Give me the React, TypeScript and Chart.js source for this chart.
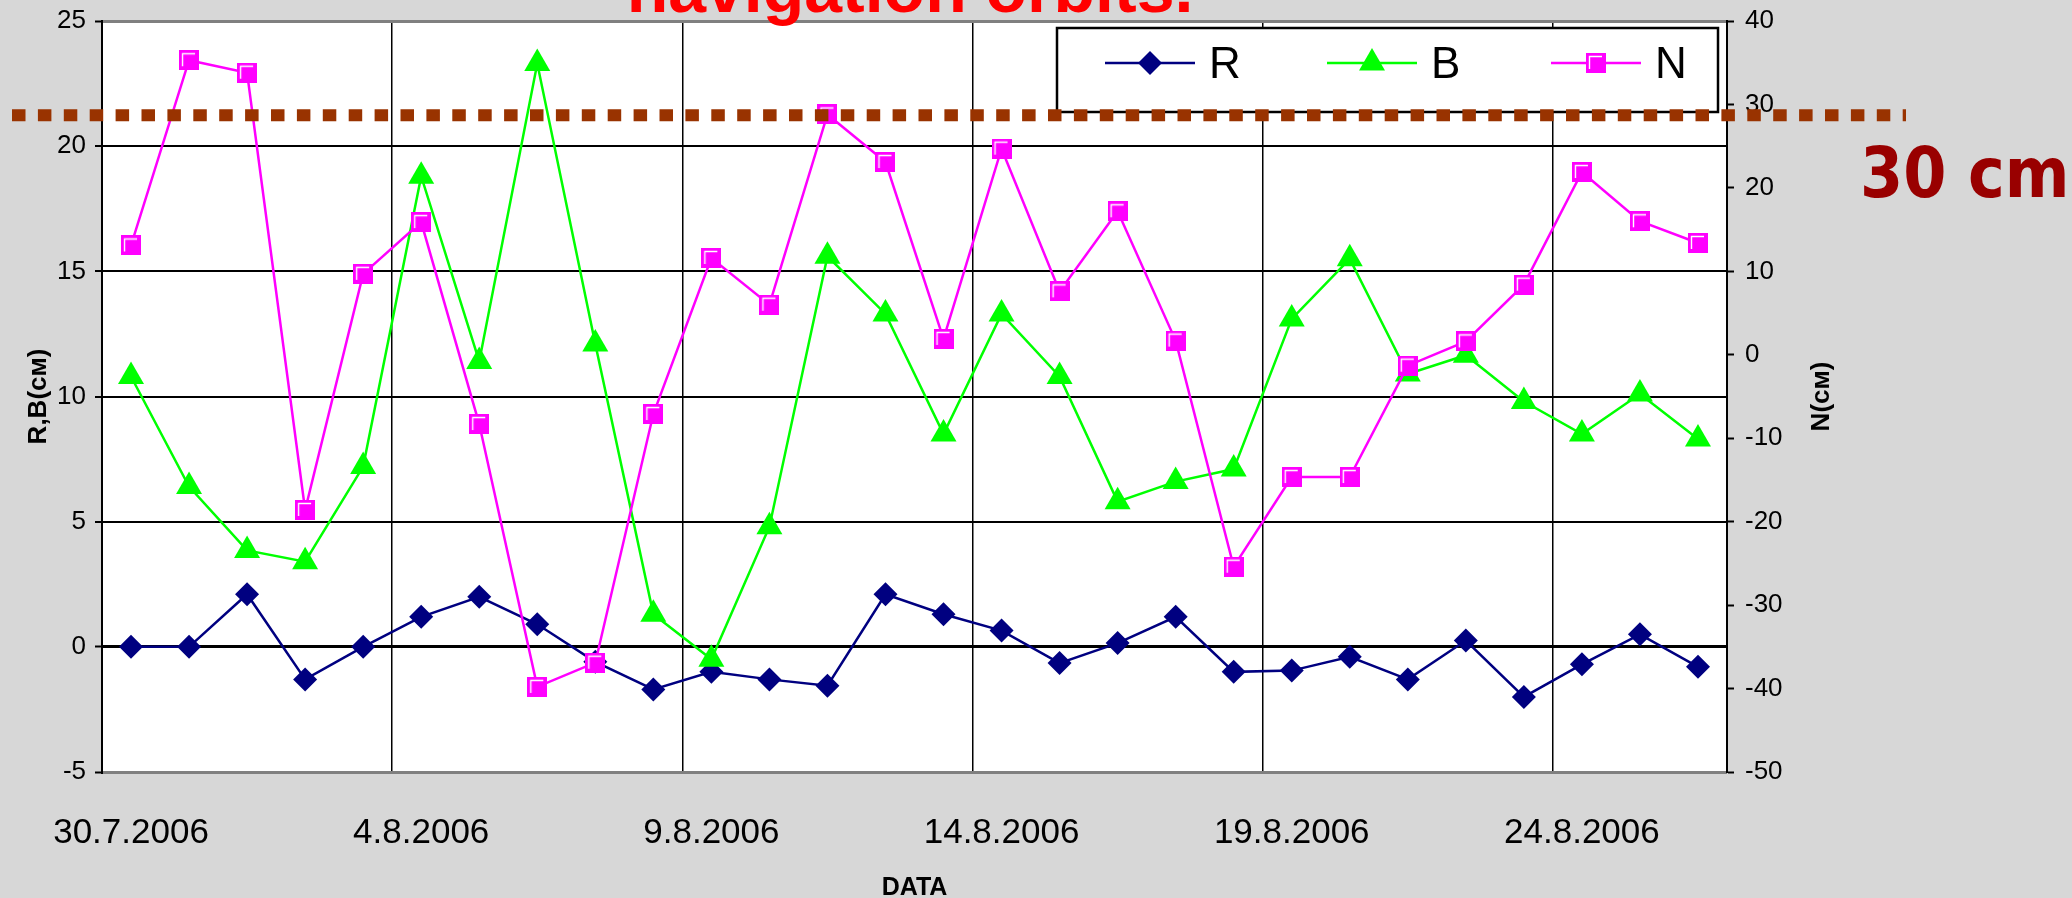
import React, { useEffect, useRef } from 'react';
import { Chart, registerables } from 'chart.js';

Chart.register(...registerables);

// ---------- data ----------
const categories = [
  '30.7.2006', '31.7.2006', '1.8.2006', '2.8.2006', '3.8.2006', '4.8.2006', '5.8.2006',
  '6.8.2006', '7.8.2006', '8.8.2006', '9.8.2006', '10.8.2006', '11.8.2006', '12.8.2006',
  '13.8.2006', '14.8.2006', '15.8.2006', '16.8.2006', '17.8.2006', '18.8.2006', '19.8.2006',
  '20.8.2006', '21.8.2006', '22.8.2006', '23.8.2006', '24.8.2006', '25.8.2006', '26.8.2006',
];

const rValues = [
  0, 0, 2.1, -1.3, 0, 1.2, 2.0, 0.9, -0.6, -1.7, -1.0, -1.3, -1.55, 2.1,
  1.3, 0.65, -0.65, 0.15, 1.2, -1.0, -0.95, -0.4, -1.3, 0.25, -2.0, -0.7, 0.5, -0.8,
];

const bValues = [
  10.8, 6.4, 3.85, 3.4, 7.2, 18.8, 11.4, 23.3, 12.1, 1.3, -0.5, 4.8, 15.6, 13.3,
  8.5, 13.3, 10.8, 5.8, 6.6, 7.1, 13.1, 15.5, 10.9, 11.65, 9.8, 8.5, 10.1, 8.3,
];

const nValues = [
  13.1, 35.3, 33.8, -18.6, 9.7, 15.9, -8.3, -39.8, -36.9, -7.1, 11.6, 6.0, 28.8, 23.1,
  1.9, 24.7, 7.6, 17.2, 1.7, -25.4, -14.65, -14.65, -1.3, 1.6, 8.4, 21.9, 16.0, 13.4,
];

const leftAxisRange = [-5, 25];
const leftAxisStep = 5;
const rightAxisRange = [-50, 40];
const rightAxisStep = 10;
const labelEvery = 5;

const seriesNames = ['R', 'B', 'N'];
const titleText = 'navigation orbits.';
const leftAxisTitle = 'R,B(см)';
const rightAxisTitle = 'N(см)';
const xAxisTitle = 'DATA';
const thresholdN = 28.7; // position of the drawn "30 cm" marker line on the N axis
const thresholdLabel = '30 cm';

// ---------- styles ----------
const FONT = "'Liberation Sans', Arial, sans-serif";
const NAVY = '#000080';
const GREEN = '#00ff00';
const MAGENTA = '#ff00ff';

function makeSquare(size: number, color: string): HTMLCanvasElement {
  const c = document.createElement('canvas');
  c.width = size;
  c.height = size;
  const g = c.getContext('2d')!;
  g.fillStyle = color;
  g.fillRect(0, 0, size, size);
  g.strokeStyle = '#ffffff';
  g.lineWidth = 1.4;
  g.beginPath();
  g.moveTo(3.5, size - 4);
  g.lineTo(3.5, 3.5);
  g.lineTo(size - 4, 3.5);
  g.stroke();
  return c;
}

function drawDiamond(ctx: CanvasRenderingContext2D, x: number, y: number, r: number, color: string) {
  ctx.beginPath();
  ctx.moveTo(x - r, y);
  ctx.lineTo(x, y - r);
  ctx.lineTo(x + r, y);
  ctx.lineTo(x, y + r);
  ctx.closePath();
  ctx.fillStyle = color;
  ctx.fill();
}

function drawTriangle(ctx: CanvasRenderingContext2D, x: number, y: number, r: number, color: string) {
  ctx.beginPath();
  for (let k = 0; k < 3; k++) {
    const a = (k * 2 * Math.PI) / 3;
    const px = x + Math.sin(a) * r;
    const py = y - Math.cos(a) * r;
    if (k === 0) ctx.moveTo(px, py);
    else ctx.lineTo(px, py);
  }
  ctx.closePath();
  ctx.fillStyle = color;
  ctx.fill();
}

export default function App() {
  const ref = useRef<HTMLCanvasElement>(null);

  useEffect(() => {
    const canvas = ref.current!;
    const square = makeSquare(20, MAGENTA);

    const overlay = {
      id: 'overlay',
      beforeDraw(chart: any) {
        const { ctx, chartArea: a } = chart;
        ctx.save();
        ctx.fillStyle = '#ffffff';
        ctx.fillRect(a.left, a.top, a.right - a.left, a.bottom - a.top);
        ctx.restore();
      },
      afterDraw(chart: any) {
        const { ctx, chartArea: a, scales } = chart;
        ctx.save();

        // legend box
        const lx = a.right - 670;
        const ly = a.top + 7;
        const lw = 661;
        const lh = 84;
        ctx.fillStyle = '#ffffff';
        ctx.fillRect(lx, ly, lw, lh);
        ctx.strokeStyle = '#000000';
        ctx.lineWidth = 2.5;
        ctx.strokeRect(lx, ly, lw, lh);
        const cy = ly + 35;
        const starts = [48, 270, 494];
        const colors = [NAVY, GREEN, MAGENTA];
        seriesNames.forEach((name, i) => {
          const sx = lx + starts[i];
          ctx.strokeStyle = colors[i];
          ctx.lineWidth = 2.5;
          ctx.beginPath();
          ctx.moveTo(sx, cy);
          ctx.lineTo(sx + 90, cy);
          ctx.stroke();
          const mx = sx + 45;
          if (i === 0) drawDiamond(ctx, mx, cy, 12, NAVY);
          else if (i === 1) drawTriangle(ctx, mx, cy, 15, GREEN);
          else ctx.drawImage(square, mx - square.width / 2, cy - square.height / 2);
          ctx.fillStyle = '#000000';
          ctx.font = `44px ${FONT}`;
          ctx.textAlign = 'left';
          ctx.textBaseline = 'alphabetic';
          ctx.fillText(name, sx + 104, cy + 15);
        });

        // threshold dashed line
        const ty = scales.y1.getPixelForValue(thresholdN);
        ctx.strokeStyle = '#993300';
        ctx.lineWidth = 12;
        ctx.lineCap = 'butt';
        ctx.setLineDash([13.5, 12.4]);
        ctx.beginPath();
        ctx.moveTo(12, ty);
        ctx.lineTo(1906, ty);
        ctx.stroke();
        ctx.setLineDash([]);

        // threshold label
        ctx.fillStyle = '#990000';
        ctx.font = "bold 69px 'DejaVu Sans Condensed', 'DejaVu Sans', sans-serif";
        ctx.textAlign = 'left';
        ctx.textBaseline = 'alphabetic';
        ctx.fillText(thresholdLabel, 1860, 197);

        // title (cut at top)
        ctx.fillStyle = '#ff0000';
        ctx.font = `bold 68px ${FONT}`;
        ctx.textAlign = 'center';
        ctx.fillText(titleText, 910, 12);

        // axis titles
        ctx.fillStyle = '#000000';
        ctx.font = `bold 26px ${FONT}`;
        ctx.textAlign = 'center';
        ctx.textBaseline = 'middle';
        const midY = (a.top + a.bottom) / 2;
        ctx.save();
        ctx.translate(39, midY);
        ctx.rotate(-Math.PI / 2);
        ctx.fillText(leftAxisTitle, 0, 0);
        ctx.restore();
        ctx.save();
        ctx.translate(1822, midY);
        ctx.rotate(-Math.PI / 2);
        ctx.fillText(rightAxisTitle, 0, 0);
        ctx.restore();
        ctx.font = `bold 25px ${FONT}`;
        ctx.textBaseline = 'alphabetic';
        ctx.fillText(xAxisTitle, (a.left + a.right) / 2, 895);

        ctx.restore();
      },
    };

    const edgeVals = [leftAxisRange[0], leftAxisRange[1]];

    const chart = new Chart(canvas, {
      type: 'line',
      data: {
        labels: categories,
        datasets: [
          {
            label: seriesNames[0],
            data: rValues,
            yAxisID: 'y',
            borderColor: NAVY,
            backgroundColor: NAVY,
            borderWidth: 2.5,
            pointStyle: 'rectRot',
            pointRadius: 12,
            pointBorderWidth: 0,
            pointBackgroundColor: NAVY,
            pointBorderColor: NAVY,
            tension: 0,
            order: 3,
          },
          {
            label: seriesNames[1],
            data: bValues,
            yAxisID: 'y',
            borderColor: GREEN,
            backgroundColor: GREEN,
            borderWidth: 2.5,
            pointStyle: 'triangle',
            pointRadius: 15,
            pointBorderWidth: 0,
            pointBackgroundColor: GREEN,
            pointBorderColor: GREEN,
            tension: 0,
            order: 2,
          },
          {
            label: seriesNames[2],
            data: nValues,
            yAxisID: 'y1',
            borderColor: MAGENTA,
            backgroundColor: MAGENTA,
            borderWidth: 2.5,
            pointStyle: square as any,
            pointRadius: 10,
            tension: 0,
            order: 1,
          },
        ],
      },
      options: {
        responsive: false,
        animation: false,
        events: [],
        layout: { padding: { top: 21, left: 0, right: 0, bottom: 0 } },
        plugins: {
          legend: { display: false },
          title: { display: false },
          tooltip: { enabled: false },
        },
        scales: {
          x: {
            type: 'category',
            offset: true,
            grid: {
              offset: true,
              drawTicks: false,
              lineWidth: 1.5,
              color: (c: any) =>
                c.index > 0 && c.index < categories.length && c.index % labelEvery === 0
                  ? '#000000'
                  : 'rgba(0,0,0,0)',
            },
            border: { display: false },
            ticks: {
              autoSkip: false,
              maxRotation: 0,
              minRotation: 0,
              color: '#000000',
              font: { family: FONT, size: 35 },
              padding: 40,
              callback: (_v: any, i: number) => (i % labelEvery === 0 ? categories[i] : ''),
            },
            afterFit: (s: any) => {
              s.height = 126;
              s.paddingLeft = 0;
              s.paddingRight = 0;
            },
          },
          y: {
            type: 'linear',
            position: 'left',
            min: leftAxisRange[0],
            max: leftAxisRange[1],
            ticks: {
              stepSize: leftAxisStep,
              color: '#000000',
              font: { family: FONT, size: 26 },
              padding: 9,
            },
            grid: {
              color: (c: any) =>
                c.tick && edgeVals.includes(c.tick.value) ? '#808080' : '#000000',
              lineWidth: (c: any) =>
                c.tick && (c.tick.value === 0 || edgeVals.includes(c.tick.value)) ? 3 : 2,
              tickLength: 7,
              tickColor: '#000000',
              tickWidth: 2,
            },
            border: { color: '#000000', width: 2 },
            afterFit: (s: any) => {
              s.width = 102;
              s.paddingTop = 0;
              s.paddingBottom = 0;
            },
          },
          y1: {
            type: 'linear',
            position: 'right',
            min: rightAxisRange[0],
            max: rightAxisRange[1],
            ticks: {
              stepSize: rightAxisStep,
              color: '#000000',
              font: { family: FONT, size: 26 },
              padding: 11,
            },
            grid: {
              drawOnChartArea: false,
              tickLength: 7,
              tickColor: '#000000',
              tickWidth: 2,
            },
            border: { color: '#000000', width: 2 },
            afterFit: (s: any) => {
              s.width = 2072 - 1727;
              s.paddingTop = 0;
              s.paddingBottom = 0;
            },
          },
        },
      } as any,
      plugins: [overlay],
    });

    return () => chart.destroy();
  }, []);

  return (
    <div
      style={{
        position: 'absolute',
        left: 0,
        top: 0,
        width: 2072,
        height: 898,
        background: '#d7d7d7',
        overflow: 'hidden',
      }}
    >
      <canvas ref={ref} width={2072} height={898} style={{ display: 'block', width: 2072, height: 898 }} />
    </div>
  );
}
